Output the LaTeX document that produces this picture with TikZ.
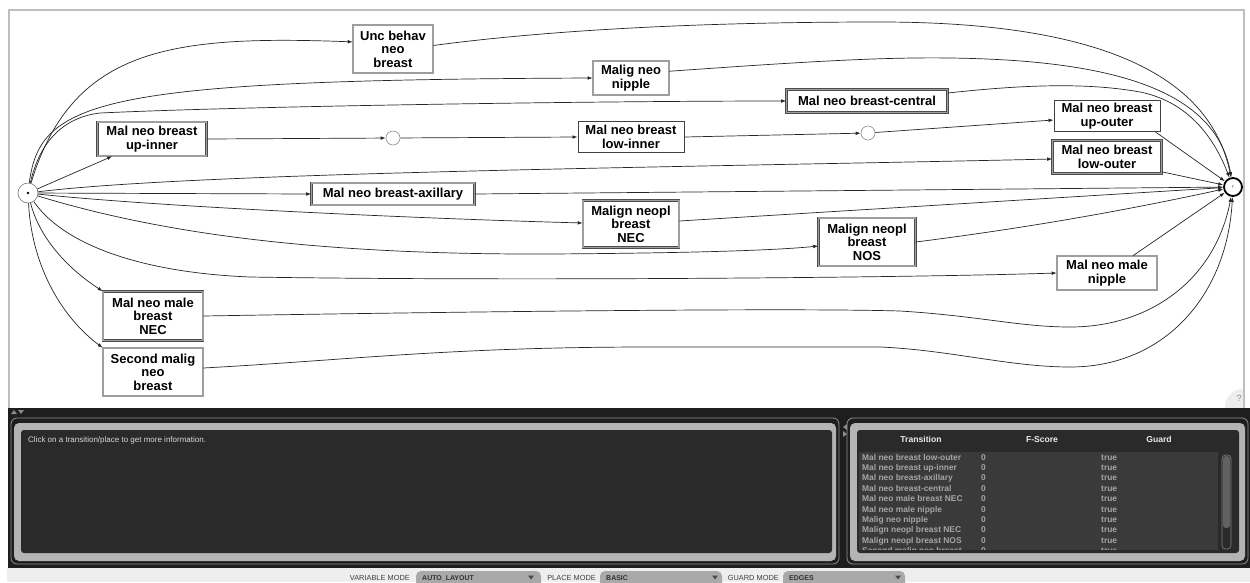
\documentclass[tikz,border=0pt]{standalone}
\usepackage{fontspec}
\setmainfont{Liberation Sans}
\usetikzlibrary{arrows.meta}
\definecolor{uidark}{HTML}{1E1E1E}
\definecolor{uipanel}{HTML}{2A2A2A}
\definecolor{uiring}{HTML}{B4B4B4}
\definecolor{uitable}{HTML}{3A3A3A}
\definecolor{uirow}{HTML}{A6A6A6}
\definecolor{uibar}{HTML}{EEEEEE}
\definecolor{uipill}{HTML}{A9A9A9}
\begin{document}
\begin{tikzpicture}[x=1pt,y=-1pt,
  lbl/.style={font=\bfseries\fontsize{13}{13.5}\selectfont, align=center, inner sep=0pt},
  dbox/.style={lbl, rectangle, draw=black!70, line width=0.6pt, double=black!38, double distance=1.5pt, fill=white},
  sbox/.style={lbl, rectangle, draw=black!75, line width=0.9pt, fill=white},
  pl/.style={circle, draw=black!45, line width=0.6pt, fill=white, minimum size=14pt, inner sep=0pt},
  flow/.style={draw=black!85, line width=0.7pt, -{Latex[length=5pt,width=3.6pt]}},
  rowtxt/.style={font=\bfseries\fontsize{8.4}{9}\selectfont, text=uirow, inner sep=0pt, anchor=base west},
  headtxt/.style={font=\bfseries\fontsize{8.6}{9}\selectfont, text=white!92!black, inner sep=0pt, anchor=base},
  modetxt/.style={font=\fontsize{7.4}{8}\selectfont, text=black!75, inner sep=0pt, anchor=base east},
  pilltxt/.style={font=\bfseries\fontsize{7}{8}\selectfont, text=black!80, inner sep=0pt, anchor=base west},
  pill/.style={fill=uipill, rounded corners=5pt},
  tri/.style={fill=black!70}
]
\clip (0,0) rectangle (1250,582);
\fill[white] (0,0) rectangle (1250,582);

% model canvas frame
\draw[black!25, line width=2.2pt] (9,408) -- (9,10) -- (1244,10) -- (1244,408);
\begin{scope}
  \clip (1222,386) rectangle (1243,407);
  \fill[black!7] (1243,407) circle (18pt);
\end{scope}
\node[font=\fontsize{9}{9}\selectfont, text=black!45, inner sep=0pt] (help) at (1239,398) {?};

% places
\node[circle, draw=black!55, line width=0.6pt, fill=white, minimum size=20pt, inner sep=0pt] (src) at (28,193) {};
\fill[black] (src.center) circle (1.3pt);
\node[circle, draw=black, line width=1.8pt, fill=white, minimum size=18pt, inner sep=0pt, outer sep=1pt,
      font=\fontsize{4}{4}\selectfont, text=black!55] (sink) at (1233,187) {F};
\node[pl] (p1) at (393,138) {};
\node[pl] (p2) at (868,133) {};

% transitions
\node[dbox, minimum width=80pt, minimum height=48pt] (unc) at (393,49) {Unc behav\\neo\\breast};
\node[dbox, minimum width=76pt, minimum height=34pt] (nip) at (631,78) {Malig neo\\nipple};
\node[dbox, minimum width=161pt, minimum height=23pt] (cen) at (867,101) {Mal neo breast-central};
\node[dbox, minimum width=109pt, minimum height=34pt] (upin) at (152,139) {Mal neo breast\\up-inner};
\node[sbox, minimum width=106pt, minimum height=31pt] (lowin) at (631,137) {Mal neo breast\\low-inner};
\node[sbox, minimum width=106pt, minimum height=31pt] (upout) at (1107,116) {Mal neo breast\\up-outer};
\node[dbox, minimum width=109pt, minimum height=33pt] (lowout) at (1107,157) {Mal neo breast\\low-outer};
\node[dbox, minimum width=163pt, minimum height=22pt] (axi) at (393,194) {Mal neo breast-axillary};
\node[dbox, minimum width=96pt, minimum height=47pt] (nec) at (631,224) {Malign neopl\\breast\\NEC};
\node[dbox, minimum width=97pt, minimum height=48pt] (nos) at (867,242) {Malign neopl\\breast\\NOS};
\node[dbox, minimum width=100pt, minimum height=34pt] (mnip) at (1107,273) {Mal neo male\\nipple};
\node[dbox, minimum width=100pt, minimum height=49pt] (mnec) at (153,316) {Mal neo male\\breast\\NEC};
\node[dbox, minimum width=100pt, minimum height=48pt] (sec) at (153,372) {Second malig\\neo\\breast};

% arcs out of the source place
\draw[flow] (src) .. controls (72,48) and (170,35) .. (unc.170);
\draw[flow] (src) .. controls (40,100) and (100,80) .. (nip.west);
\draw[flow] (src) .. controls (40,140) and (65,117) .. (100,113) .. controls (250,106) and (600,101) .. (cen.west);
\draw[flow] (src) -- ([xshift=15pt]upin.south west);
\draw[flow] (src) .. controls (200,172) and (700,167) .. ([yshift=-2pt]lowout.west);
\draw[flow] (src) -- (axi.west);
\draw[flow] (src) .. controls (150,206) and (400,218) .. ([yshift=1pt]nec.west);
\draw[flow] (src) .. controls (150,230) and (300,255) .. (550,254) .. controls (700,253) and (780,250) .. ([yshift=-4pt]nos.west);
\draw[flow] (src) .. controls (60,240) and (130,272) .. (250,277) .. controls (500,281) and (900,278) .. (mnip.west);
\draw[flow] (src) .. controls (40,240) and (70,270) .. (mnec.north west);
\draw[flow] (src) .. controls (32,270) and (65,320) .. (sec.north west);

% chain through the intermediate places
\draw[flow] (upin.east) -- (p1);
\draw[flow] (p1) -- (lowin.west);
\draw[flow] (lowin.east) -- (p2);
\draw[flow] (p2) -- ([yshift=-4pt]upout.west);

% arcs into the final place
\draw[flow] (unc.5) .. controls (550,30) and (700,22) .. (880,22) .. controls (1100,22) and (1210,75) .. (sink);
\draw[flow] (nip.10) .. controls (800,62) and (880,57) .. (950,58) .. controls (1100,60) and (1215,85) .. (sink);
\draw[flow] ([yshift=8pt]cen.east) .. controls (1030,84) and (1090,83) .. (1140,92) .. controls (1190,102) and (1215,140) .. (sink);
\draw[flow] ([xshift=-5pt]upout.south east) -- (sink);
\draw[flow] ([yshift=2pt]lowout.south east) -- (sink);
\draw[flow] (axi.east) -- (sink);
\draw[flow] ([yshift=3pt]nec.east) -- (sink);
\draw[flow] (nos.east) .. controls (1050,225) and (1150,205) .. (sink);
\draw[flow] ([xshift=26pt]mnip.north) -- (sink);
\draw[flow] (mnec.east) .. controls (500,311) and (800,308) .. (900,311) .. controls (980,316) and (1020,327) .. (1070,327) .. controls (1150,327) and (1215,280) .. (sink);
\draw[flow] ([yshift=4pt]sec.east) .. controls (350,360) and (450,347) .. (650,347) -- (880,347) .. controls (950,350) and (1010,367) .. (1070,367) .. controls (1165,367) and (1227,295) .. (sink);

% lower tool area
\fill[uidark] (8,408) rectangle (1250,568);
\fill[uibar] (7,568) rectangle (1250,582);
\fill[black!45] (11,414) -- (17,414) -- (14,410) -- cycle;
\fill[black!45] (18,410) -- (24,410) -- (21,414) -- cycle;
\fill[black!45] (847,424) -- (847,430) -- (843,427) -- cycle;
\fill[black!45] (843,431) -- (843,437) -- (847,434) -- cycle;

% information panel
\draw[uiring!80!black, line width=0.8pt, rounded corners=6pt] (11,418) rectangle (839,564);
\fill[uiring, rounded corners=5pt] (14,423) rectangle (836,561);
\fill[uipanel, rounded corners=3pt] (21,430) rectangle (832,553);
\node[font=\fontsize{8}{9}\selectfont, text=black!15, inner sep=0pt, anchor=base west] (info) at (28,442) {Click on a transition/place to get more information.};

% transition table panel
\draw[uiring!80!black, line width=0.8pt, rounded corners=6pt] (847,418) rectangle (1248,564);
\fill[uiring, rounded corners=5pt] (850,423) rectangle (1245,561);
\fill[uipanel, rounded corners=3pt] (857,430) rectangle (1239,553);
\node[headtxt] (hT) at (921,442.5) {Transition};
\node[headtxt] (hF) at (1042,442.5) {F-Score};
\node[headtxt] (hG) at (1159,442.5) {Guard};
\fill[uitable] (859,452) rectangle (1218,550);
\begin{scope}
  \clip (859,452) rectangle (1218,549.5);
  \foreach \nm [count=\i] in {Mal neo breast low-outer, Mal neo breast up-inner, Mal neo breast-axillary,
      Mal neo breast-central, Mal neo male breast NEC, Mal neo male nipple, Malig neo nipple,
      Malign neopl breast NEC, Malign neopl breast NOS, Second malig neo breast} {
    \node[rowtxt] (rn\i) at (862,449.6+10.4*\i) {\nm};
    \node[rowtxt] (rf\i) at (981,449.6+10.4*\i) {0};
    \node[rowtxt] (rg\i) at (1101,449.6+10.4*\i) {true};
  }
\end{scope}
\draw[black!50, line width=0.6pt, fill=uipanel, rounded corners=3.5pt] (1222,455) rectangle (1231,549);
\fill[black!62, rounded corners=3pt] (1223,456) rectangle (1230,528);

% mode selectors
\node[modetxt] (vm) at (410,580.5) {VARIABLE MODE};
\fill[pill] (416,571) rectangle (541,592);
\node[pilltxt] (vmv) at (422,580.5) {AUTO\_LAYOUT};
\fill[tri] (528,575.5) -- (534,575.5) -- (531,579.5) -- cycle;
\node[modetxt] (pm) at (596,580.5) {PLACE MODE};
\fill[pill] (600,571) rectangle (722,592);
\node[pilltxt] (pmv) at (606,580.5) {BASIC};
\fill[tri] (712,575.5) -- (718,575.5) -- (715,579.5) -- cycle;
\node[modetxt] (gm) at (779,580.5) {GUARD MODE};
\fill[pill] (783,571) rectangle (905,592);
\node[pilltxt] (gmv) at (789,580.5) {EDGES};
\fill[tri] (895,575.5) -- (901,575.5) -- (898,579.5) -- cycle;
\end{tikzpicture}
\end{document}
